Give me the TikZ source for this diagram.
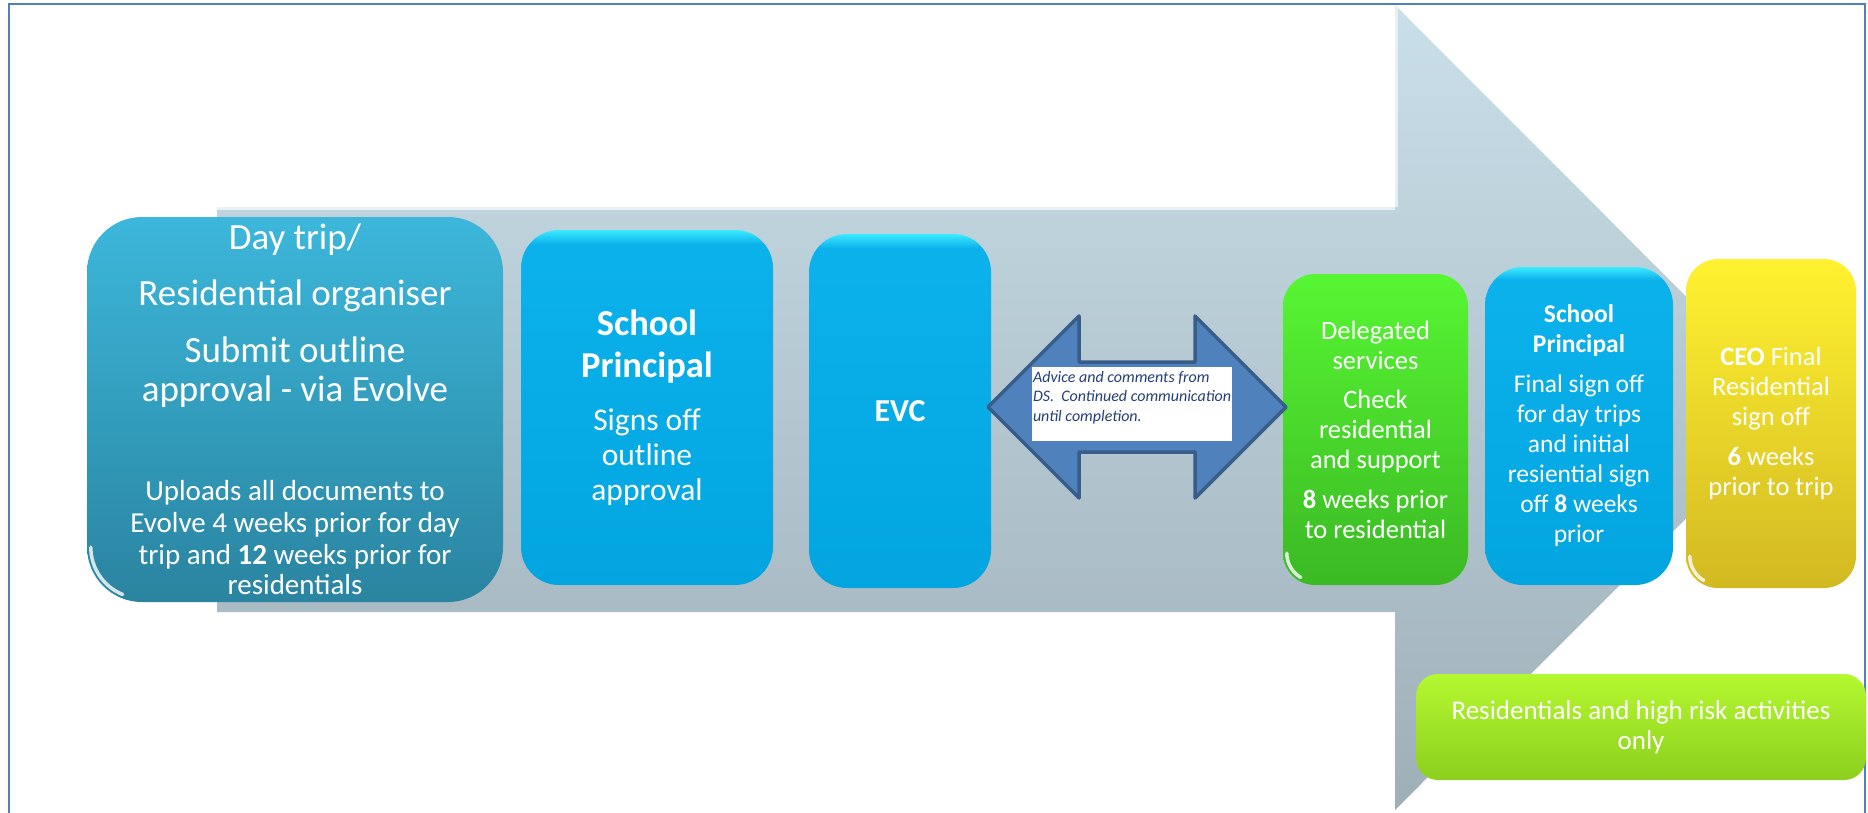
\documentclass[tikz,border=0pt]{standalone}
\usepackage{fontspec}
\setmainfont{Carlito}
\usetikzlibrary{calc}
\definecolor{frameblue}{HTML}{4F81BD}
\definecolor{arrtop}{HTML}{C9DFE9}
\definecolor{arrbot}{HTML}{9FAFB8}
\definecolor{tealtop}{HTML}{3CB7DB}
\definecolor{tealbot}{HTML}{2A84A0}
\definecolor{bluetop}{HTML}{3BEBFF}
\definecolor{bluemid}{HTML}{0BB1EB}
\definecolor{bluebot}{HTML}{02A5DF}
\definecolor{greentop}{HTML}{57F633}
\definecolor{greenbot}{HTML}{3BB924}
\definecolor{yellowtop}{HTML}{FFF230}
\definecolor{yellowbot}{HTML}{D2B922}
\definecolor{limetop}{HTML}{B4F830}
\definecolor{limebot}{HTML}{8CCF1E}
\definecolor{dblfill}{HTML}{4F81BD}
\definecolor{dbldraw}{HTML}{385D8A}
\definecolor{notetext}{HTML}{243F7A}
\pgfdeclareverticalshading{bluegloss}{100bp}{color(0bp)=(bluebot); color(25bp)=(bluebot); color(70bp)=(bluemid); color(73bp)=(bluemid); color(75bp)=(bluetop); color(100bp)=(bluetop)}
\newcommand\fs[2]{\fontsize{#1}{#2}\selectfont}
\begin{document}
\begin{tikzpicture}[x=1pt,y=-1pt,
  basebox/.style={align=center, text=white, inner sep=0pt},
  tealbox/.style={basebox, rounded corners=55pt, top color=tealtop, bottom color=tealbot},
  bluebox/.style={basebox, rounded corners=38pt, shading=bluegloss},
  greenbox/.style={basebox, rounded corners=32pt, top color=greentop, bottom color=greenbot},
  yellowbox/.style={basebox, rounded corners=32pt, top color=yellowtop, bottom color=yellowbot},
  limebox/.style={basebox, rounded corners=22pt, top color=limetop, bottom color=limebot},
  gloss/.style={white, line width=3.5pt, opacity=0.8, line cap=round},
  commarrow/.style={fill=dblfill, draw=dbldraw, line width=3.5pt, line join=round},
  notebox/.style={fill=white, inner sep=0pt},
  notefont/.style={inner sep=0pt, align=left, text=notetext, font=\fs{16}{19.5}\itshape}
]
\clip (0,0) rectangle (1868,812);
\fill[white] (0,0) rectangle (1868,812);
% frame
\draw[frameblue, line width=1.6pt] (9,4) rectangle (1865,840);
% big process arrow
\path[top color=arrtop, bottom color=arrbot]
  (217,207) -- (1395,207) -- (1395,5) -- (1797,407.5) -- (1395,810) -- (1395,612) -- (217,612) -- cycle;
\draw[white!55!arrtop, line width=2.5pt] (217,208.5) -- (1395,208.5);
\draw[white!55!arrtop, line width=2.5pt] (1396.5,6) -- (1396.5,207);

% boxes
\node[tealbox, minimum width=416pt, minimum height=385pt, font=\fs{37}{39}] (organiser) at (295,409.5)
 {Day trip/\\[17pt]
  Residential organiser\\[18pt]
  Submit outline\\
  approval - via Evolve\\[60pt]
  \fs{29}{32}Uploads all documents to\\[-7pt]
  \fs{29}{32}Evolve 4 weeks prior for day\\[-7pt]
  \fs{29}{32}trip and \textbf{12} weeks prior for\\[-9pt]
  \fs{29}{32}residentials};
\draw[gloss] ([shift={(4,-55)}]organiser.south west) arc[start angle=180, end angle=112, radius=51];

\node[bluebox, minimum width=252pt, minimum height=355pt, font=\fs{31.5}{35}] (principal) at (647,407.5)
 {\fs{36.5}{40}\bfseries School\\[7pt]
  \fs{36.5}{40}\bfseries Principal\\[18pt]
  Signs off\\
  outline\\
  approval};

\node[bluebox, minimum width=182pt, minimum height=354pt, font=\fs{32}{39}\bfseries] (evc) at (900,411) {EVC};

\node[greenbox, minimum width=185pt, minimum height=311pt, font=\fs{26.5}{30}] (delegated) at (1375.5,429.5)
 {Delegated\\
  services\\[9pt]
  Check\\
  residential\\
  and support\\[10pt]
  \textbf{8} weeks prior\\
  to residential};
\draw[gloss] ([shift={(4,-32)}]delegated.south west) arc[start angle=180, end angle=120, radius=28];

\node[bluebox, minimum width=188pt, minimum height=318pt, font=\fs{25.5}{30}] (final) at (1579,426)
 {\textbf{School}\\
  \textbf{Principal}\\[10pt]
  Final sign off\\
  for day trips\\
  and initial\\
  resiential sign\\
  off \textbf{8} weeks\\
  prior};

\node[yellowbox, minimum width=170pt, minimum height=329pt, font=\fs{26.5}{30}] (ceo) at (1771,423.5)
 {\textbf{CEO} Final\\
  Residential\\
  sign off\\[10pt]
  \textbf{6} weeks\\
  prior to trip};
\draw[gloss] ([shift={(4,-32)}]ceo.south west) arc[start angle=180, end angle=120, radius=28];

\node[limebox, minimum width=450pt, minimum height=106pt, font=\fs{27}{30}] (highrisk) at (1641,727)
 {Residentials and high risk activities\\
  only};

% double-headed block arrow between EVC and Delegated services
\coordinate (comm) at ($(evc.east)!0.5!(delegated.west)$);
\begin{scope}[shift={(1137,407)}]
\draw[commarrow] (-149,0) -- (-58,-91) -- (-58,-45) -- (58,-45) -- (58,-91) -- (149,0)
  -- (58,91) -- (58,45) -- (-58,45) -- (-58,91) -- cycle;
\end{scope}

\node[notebox, minimum width=200pt, minimum height=74pt] (note) at (1132,404) {};
\node[notefont, anchor=north west] (notetxt) at ([xshift=1pt,yshift=-4pt]note.north west)
 {Advice and comments from\\
  DS.\ \ Continued communication\\
  until completion.};
\end{tikzpicture}
\end{document}
